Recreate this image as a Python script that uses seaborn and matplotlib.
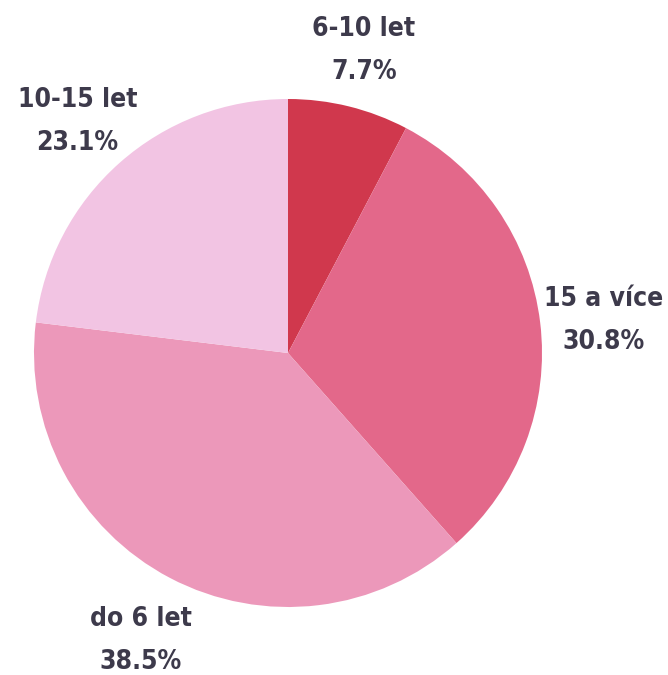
import matplotlib
matplotlib.use("Agg")
import matplotlib.pyplot as plt
import seaborn as sns
import numpy as np

categories = ["6-10 let", "15 a více", "do 6 let", "10-15 let"]
shares = [7.7, 30.8, 38.5, 23.1]
colors = ["#D0384D", "#E3688A", "#EC98BA", "#F2C4E3"]

sns.set_theme(style="white")
plt.rcParams["font.family"] = ["DejaVu Sans"]

fig = plt.figure(figsize=(6.68, 6.75), dpi=100)
ax = fig.add_axes([0, 0, 1, 1])

wedges, _ = ax.pie(shares, colors=colors, startangle=90, counterclock=False,
                   radius=1.0, wedgeprops=dict(linewidth=0))

for w, cat, val in zip(wedges, categories, shares):
    mid = np.deg2rad((w.theta1 + w.theta2) / 2)
    r = 1.25
    ax.annotate(f"{cat}\n{val:.1f}%", (r * np.cos(mid), r * np.sin(mid)),
                xytext=(0, -4.5), textcoords="offset points",
                ha="center", va="center", fontsize=19, fontweight="bold",
                fontstretch="condensed", color="#3D3A4B", linespacing=1.85)

ax.set_xlim(-288 / 254, 380 / 254)
ax.set_ylim(-322 / 254, 353 / 254)
ax.set_aspect("auto")
ax.axis("off")

fig.savefig("out.png", dpi=100)
